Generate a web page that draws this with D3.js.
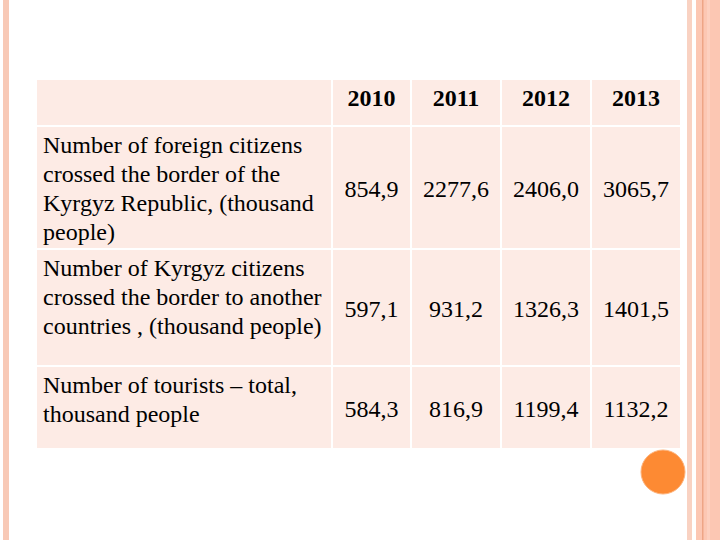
<!DOCTYPE html>
<html>
<head>
<meta charset="utf-8">
<script src="https://cdn.jsdelivr.net/npm/d3@7"></script>
<style>
  html, body { margin: 0; padding: 0; background: #fff; }
  svg { display: block; }
</style>
</head>
<body>
<svg id="chart" width="720" height="540"></svg>
<script>
// data
var years = ["2010", "2011", "2012", "2013"];
var indicators = [
  ["Number of foreign citizens", "crossed the border of the", "Kyrgyz Republic, (thousand", "people)"],
  ["Number of Kyrgyz citizens", "crossed the border to another", "countries , (thousand people)"],
  ["Number of tourists \u2013 total,", "thousand people"]
];
var foreignIn = ["854,9", "2277,6", "2406,0", "3065,7"];
var kyrgyzOut = ["597,1", "931,2", "1326,3", "1401,5"];
var tourists = ["584,3", "816,9", "1199,4", "1132,2"];
var rows = [foreignIn, kyrgyzOut, tourists];

// layout
var tableLeft = 37, tableTop = 80,
    labelW = 294, colW = [77, 88, 88, 88],
    rowH = [45, 121, 115, 81], gap = 2,
    fontSize = 24, lineH = 29;

var cellFill = "#fdebe5";
var svg = d3.select("#chart");

// slide decorations
svg.append("rect").attr("x", 3).attr("y", 0).attr("width", 6).attr("height", 540).attr("fill", "#f8c9b6");
svg.append("rect").attr("x", 687).attr("y", 0).attr("width", 5).attr("height", 540).attr("fill", "#f9d2c2");
svg.append("rect").attr("x", 696).attr("y", 0).attr("width", 24).attr("height", 540).attr("fill", "#fcc7b3");
svg.append("rect").attr("x", 702).attr("y", 0).attr("width", 1.5).attr("height", 540).attr("fill", "#eea586");
svg.append("rect").attr("x", 707).attr("y", 0).attr("width", 3).attr("height", 540).attr("fill", "#fdd0bf");

// column edges
var colX = [tableLeft];
var xs = tableLeft + labelW + gap;
colW.forEach(function(w) { colX.push(xs); xs += w + gap; });
var x = d3.scaleOrdinal().domain(["label"].concat(years)).range(colX);
var widthOf = d3.scaleOrdinal().domain(["label"].concat(years)).range([labelW].concat(colW));

var rowY = [];
var ys = tableTop;
rowH.forEach(function(h) { rowY.push(ys); ys += h + gap; });

var cols = ["label"].concat(years);

// cells
rowY.forEach(function(ry, ri) {
  svg.append("g").selectAll("rect")
    .data(cols)
    .enter().append("rect")
      .attr("x", function(c) { return x(c); })
      .attr("y", ry)
      .attr("width", function(c) { return widthOf(c); })
      .attr("height", rowH[ri])
      .attr("fill", cellFill);
});

var text = svg.append("g")
  .style("font-family", "'Liberation Serif', 'Times New Roman'")
  .style("font-size", fontSize + "px")
  .attr("fill", "#000");

// header
text.selectAll(".year")
  .data(years)
  .enter().append("text")
    .attr("class", "year")
    .attr("x", function(d) { return x(d) + widthOf(d) / 2; })
    .attr("y", rowY[0] + 26)
    .attr("text-anchor", "middle")
    .style("font-weight", "bold")
    .text(function(d) { return d; });

// row labels
indicators.forEach(function(lines, i) {
  var t = text.append("text")
    .attr("x", tableLeft + 6)
    .attr("y", rowY[i + 1] + 26);
  t.selectAll("tspan")
    .data(lines)
    .enter().append("tspan")
      .attr("x", tableLeft + 6)
      .attr("dy", function(d, j) { return j === 0 ? 0 : lineH; })
      .text(function(d) { return d; });
});

// values
rows.forEach(function(vals, i) {
  var ry = rowY[i + 1], h = rowH[i + 1];
  text.selectAll(".v" + i)
    .data(vals)
    .enter().append("text")
      .attr("class", "v" + i)
      .attr("x", function(d, j) { return x(years[j]) + widthOf(years[j]) / 2; })
      .attr("y", ry + h / 2 + 9)
      .attr("text-anchor", "middle")
      .text(function(d) { return d; });
});

// orange dot
svg.append("circle")
  .attr("cx", 663).attr("cy", 472).attr("r", 22)
  .attr("fill", "#fd8a33")
  .attr("stroke", "#fdb27a").attr("stroke-width", 1);
</script>
</body>
</html>
